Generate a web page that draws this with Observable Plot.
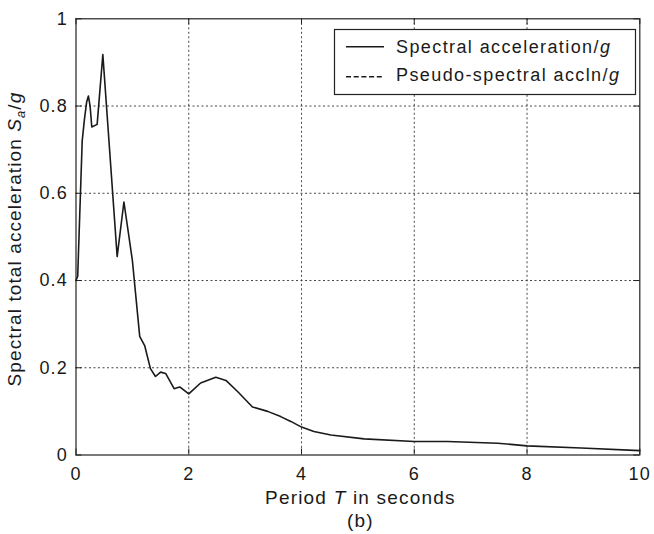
<!DOCTYPE html>
<html>
<head>
<meta charset="utf-8">
<script src="https://cdn.jsdelivr.net/npm/d3@7"></script>
<script src="https://cdn.jsdelivr.net/npm/@observablehq/plot@0.6"></script>
<style>
  html, body { margin: 0; padding: 0; background: #fff; }
  #chart svg { display: block; }
</style>
</head>
<body>
<div id="chart"></div>
<script>
// Period T (s)
const periods = [0, 0.03, 0.11, 0.15, 0.19, 0.22, 0.25, 0.28, 0.375, 0.476, 0.73, 0.85, 1.0, 1.13, 1.22, 1.32, 1.41, 1.5, 1.59, 1.74, 1.84, 2.0, 2.21, 2.48, 2.66, 2.87, 3.13, 3.40, 3.63, 3.81, 4.0, 4.22, 4.52, 5.11, 6.0, 6.59, 7.48, 8.0, 8.96, 10];
// Spectral acceleration / g
const spectralAccel = [0.40, 0.41, 0.72, 0.77, 0.81, 0.823, 0.80, 0.752, 0.758, 0.918, 0.455, 0.58, 0.446, 0.272, 0.25, 0.198, 0.18, 0.19, 0.187, 0.152, 0.156, 0.140, 0.165, 0.178, 0.171, 0.145, 0.110, 0.100, 0.088, 0.077, 0.064, 0.054, 0.046, 0.037, 0.031, 0.031, 0.027, 0.021, 0.016, 0.010];
const xTicks = [0, 2, 4, 6, 8, 10];
const yTicks = [0, 0.2, 0.4, 0.6, 0.8, 1];
const legendLabels = ["Spectral acceleration/", "Pseudo-spectral accln/"];

const data = periods.map((t, i) => ({T: t, Sa: spectralAccel[i]}));

const W = 654, H = 534;
const mL = 75.5, mR = 14.7, mT = 18.3, mB = 79.5;
const innerW = W - mL - mR, innerH = H - mT - mB;
const tickLen = 6;
const font = "'Liberation Sans', Arial, Helvetica, sans-serif";

const svg = Plot.plot({
  width: W, height: H,
  marginLeft: mL, marginRight: mR, marginTop: mT, marginBottom: mB,
  style: {fontFamily: font, fontSize: "18px", color: "#1a1a1a", background: "#fff", letterSpacing: "1.2px"},
  x: {domain: [0, 10], label: null},
  y: {domain: [0, 1], label: null},
  marks: [
    Plot.gridX(xTicks.slice(1, -1), {stroke: "#333", strokeOpacity: 0.9, strokeDasharray: "2,2.5"}),
    Plot.gridY(yTicks.slice(1, -1), {stroke: "#333", strokeOpacity: 0.9, strokeDasharray: "2,2.5"}),
    Plot.tickX(xTicks, {x: d => d, stroke: "#222", insetTop: innerH - tickLen}),
    Plot.tickX(xTicks, {x: d => d, stroke: "#222", insetBottom: innerH - tickLen}),
    Plot.tickY(yTicks, {y: d => d, stroke: "#222", insetRight: innerW - tickLen}),
    Plot.tickY(yTicks, {y: d => d, stroke: "#222", insetLeft: innerW - tickLen}),
    Plot.line(data, {x: "T", y: "Sa", stroke: "#1a1a1a", strokeWidth: 1.6}),
    Plot.frame({stroke: "#222", strokeWidth: 1.2}),
    Plot.axisX(xTicks, {tickSize: 0, tickPadding: 12, fontSize: 18, tickFormat: d => String(d)}),
    Plot.axisY(yTicks, {tickSize: 0, tickPadding: 8, fontSize: 18,
      tickFormat: d => (d === 0 || d === 1) ? String(d) : d.toFixed(1)})
  ]
});

const s = d3.select(svg);

// X axis label
const xl = s.append("text")
  .attr("x", mL + innerW / 2 + 3).attr("y", 504)
  .attr("text-anchor", "middle").style("font-size", "19px").style("letter-spacing", "1.2px").attr("fill", "#1a1a1a");
xl.append("tspan").text("Period ");
xl.append("tspan").style("font-style", "italic").text("T");
xl.append("tspan").text(" in seconds");

s.append("text")
  .attr("x", mL + innerW / 2 + 3).attr("y", 527)
  .attr("text-anchor", "middle").style("font-size", "19px").style("letter-spacing", "1.2px").attr("fill", "#1a1a1a")
  .text("(b)");

// Y axis label
const yl = s.append("text")
  .attr("transform", `translate(21,${239}) rotate(-90)`)
  .attr("text-anchor", "middle").style("font-size", "19px").style("letter-spacing", "1.1px").attr("fill", "#1a1a1a");
yl.append("tspan").text("Spectral total acceleration ");
yl.append("tspan").style("font-style", "italic").text("S");
yl.append("tspan").style("font-style", "italic").style("font-size", "13px").attr("dy", 4).text("a");
yl.append("tspan").attr("dy", -4).text("/");
yl.append("tspan").style("font-style", "italic").text("g");

// Legend
const lg = s.append("g");
lg.append("rect").attr("x", 334.5).attr("y", 29.5).attr("width", 301).attr("height", 65)
  .attr("fill", "#fff").attr("stroke", "#222").attr("stroke-width", 1.2);
const rows = [{y: 46.7, dash: null, base: 52.5}, {y: 76.7, dash: "5,2.7", base: 80.5}];
rows.forEach((r, i) => {
  lg.append("line").attr("x1", 346).attr("x2", 384).attr("y1", r.y).attr("y2", r.y)
    .attr("stroke", "#1a1a1a").attr("stroke-width", 1.4).attr("stroke-dasharray", r.dash);
  const t = lg.append("text").attr("x", 396).attr("y", r.base)
    .attr("text-anchor", "start").style("font-size", "18px").style("letter-spacing", "1.4px").attr("fill", "#1a1a1a");
  t.append("tspan").text(legendLabels[i]);
  t.append("tspan").style("font-style", "italic").text("g");
});

document.getElementById("chart").appendChild(svg);
</script>
</body>
</html>
